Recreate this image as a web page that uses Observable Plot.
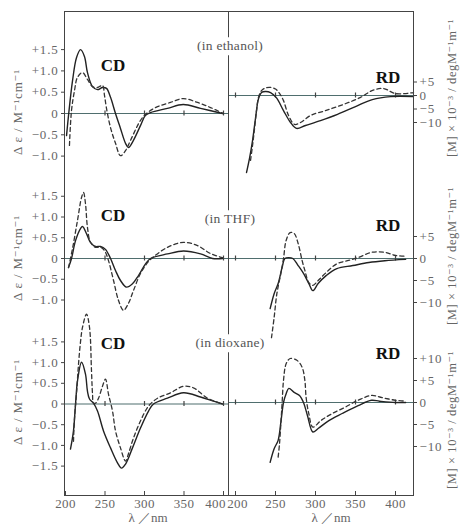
<!DOCTYPE html>
<html><head><meta charset="utf-8">
<script src="https://cdn.jsdelivr.net/npm/d3@7"></script>
<script src="https://cdn.jsdelivr.net/npm/@observablehq/plot@0.6"></script>
<style>
body{margin:0;background:#fff;}
#fig{position:relative;width:461px;height:524px;overflow:hidden;background:#fff;font-family:"Liberation Serif","DejaVu Serif",serif;color:#666;}
#fig svg{position:absolute;left:0;top:0;overflow:visible;background:transparent;}
#fig svg text{letter-spacing:0.8px;}
#fig svg g[aria-label="x-axis tick label"] text{letter-spacing:0.4px;}
.lbl{position:absolute;white-space:nowrap;line-height:1;}
.box{position:absolute;border:1px solid #444;box-sizing:border-box;}
.vline{position:absolute;width:1.2px;background:#444;}
</style></head><body><div id="fig"></div>
<script>
// ---- data: [wavelength nm, value] ----
const cdEthSolid = [[201.3,-0.52],[203.8,-0.05],[208.9,0.77],[213.9,1.31],[219,1.5],[224,1.34],[227.8,0.96],[234.2,0.63],[240.5,0.56],[246.8,0.61],[251.9,0.59],[257,0.38],[263.3,0],[269.6,-0.35],[276,-0.7],[279.7,-0.8],[286,-0.63],[295,-0.28],[301,-0.05],[307.6,0.02],[329,0.12],[349,0.21],[371,0.12],[398.7,0]];
const cdEthDashed = [[205,-0.75],[207.6,0.07],[211.4,0.54],[215.2,0.85],[221.5,0.96],[227.8,0.8],[234.2,0.63],[240.5,0.61],[246.8,0.66],[249.4,0.42],[251.9,0.12],[257,-0.33],[263.3,-0.7],[269.6,-0.99],[276,-0.87],[282.3,-0.63],[295,-0.16],[303.8,0.02],[316.5,0.16],[333,0.26],[349,0.35],[367,0.26],[383.5,0.14],[400,0]];
const rdEthSolid = [[213.8,-28.5],[217.5,-23.3],[221.3,-16.7],[225,-8.5],[228.8,-1.1],[232.5,1.1],[237.5,1.5],[243.8,1.1],[251.3,-0.9],[260,-5.6],[268.8,-10],[276.3,-12.2],[287.5,-11.1],[306.3,-9.3],[327.5,-7.0],[350,-4.1],[371,-1.5],[393.8,-0.4],[422.5,-0.4]];
const rdEthDashed = [[218.8,-24],[221.3,-18.5],[223.8,-12.2],[226.3,-5.6],[228.8,-0.6],[232.5,1.8],[237.5,2.8],[243.8,3.0],[250,2.4],[255,0.8],[260,-1.9],[266.3,-7.4],[273.8,-10.7],[281.3,-10],[293.8,-7.4],[312.5,-5.6],[335,-3.3],[356.3,-0.7],[371.3,1.9],[385,2.6],[400,0.7],[422.5,1.1]];

const cdThfSolid = [[203.8,-0.22],[207.6,0],[212.7,0.43],[219,0.72],[221.5,0.77],[226.6,0.6],[231.6,0.39],[238,0.29],[244.3,0.29],[250.6,0.22],[257,0],[263.3,-0.29],[269.6,-0.53],[277.2,-0.69],[284.8,-0.61],[292.4,-0.41],[301.3,-0.13],[307.6,0],[329.1,0.11],[349.4,0.18],[370.9,0.11],[386.1,0],[398.7,0]];
const cdThfDashed = [[203.8,-0.22],[208.9,0.24],[215.2,0.92],[220.3,1.47],[222.8,1.59],[225.3,1.32],[227.8,0.75],[231.6,0.39],[238,0.27],[244.3,0.27],[249.4,0.19],[254.4,-0.05],[260.8,-0.53],[267.1,-1.01],[273.4,-1.25],[279.7,-1.08],[286.1,-0.77],[294.9,-0.36],[303.8,-0.1],[310.1,0.02],[329.1,0.27],[349.4,0.39],[367.1,0.31],[383.5,0.12],[398.7,0.02]];
const rdThfSolid = [[243.3,-11.4],[248.3,-8],[253.3,-5.7],[258.3,-2],[261.7,0],[266.7,0.2],[271.7,0],[278.3,-1.6],[285,-3.4],[291.7,-5.7],[296.7,-7.3],[303.3,-5.7],[313.3,-3.9],[326.7,-2.3],[346.7,-1.6],[366.7,-0.9],[386.7,-0.5],[412.7,-0.2]];
const rdThfDashed = [[245,-18],[248.3,-13.4],[251.7,-8],[256.7,-3.4],[260,0],[263.3,4.1],[268.3,5.9],[273.3,5.7],[278.3,3.4],[283.3,-0.5],[286.7,-2.7],[291.7,-5.5],[296.7,-6.1],[303.3,-5],[313.3,-3.2],[326.7,-1.2],[340,-0.5],[353.3,0.2],[370,1.4],[386.7,1.4],[400,0.7],[412.7,0.5]];

const cdDioxSolid = [[206.3,-1.09],[210.1,-0.65],[212.7,0],[215.2,0.56],[220.3,1.01],[225.3,0.72],[227.8,0.31],[230.4,0.12],[235.4,0.02],[240.5,-0.17],[248.1,-0.65],[257,-1.06],[265.8,-1.42],[270.9,-1.55],[276,-1.45],[284.8,-1.06],[294.9,-0.58],[305.1,-0.17],[311.4,0],[329.1,0.14],[349.4,0.27],[370.9,0.17],[387.3,0.07],[398.7,0]];
const cdDioxDashed = [[210.1,-0.9],[211.4,-0.34],[213.9,0.24],[216.5,0.97],[219,1.5],[221.5,1.85],[226.6,2.17],[230.4,1.85],[232.9,0.8],[234.2,0.24],[235.4,0.02],[238,0.02],[241.8,0.14],[246.8,0.43],[250.6,0.6],[254.4,0.24],[259.5,-0.17],[263.3,-0.65],[269.6,-1.06],[276,-1.38],[279.7,-1.2],[286.1,-0.82],[294.9,-0.41],[305.1,-0.05],[316.5,0.14],[332.9,0.27],[349.4,0.43],[362,0.39],[379.7,0.14],[398.7,0]];
const rdDioxSolid = [[243.3,-13.6],[248.3,-10.5],[253.3,-8.6],[256.7,-4.5],[260,0],[263.3,2],[266.7,3.2],[273.3,2.3],[280,1.6],[285,0],[290,-3],[296.7,-6.7],[303.3,-5.9],[316.7,-4.1],[333.3,-2.5],[353.3,-0.7],[370,0.5],[380,0.3],[400,0],[412.7,0]];
const rdDioxDashed = [[253.3,-12.4],[255,-9.4],[256.7,-4.8],[258.3,0],[260,5],[263.3,8.8],[268.3,10],[276.7,9.6],[283.3,8],[286.7,5],[288.3,1.1],[291.7,-2.6],[296.7,-5.6],[306.7,-4.1],[320,-2.6],[336.7,-1.1],[353.3,0.5],[370,1.6],[383.3,1.1],[400,0.5],[412.7,0.3]];

// ticks & labels
const cdTicksA = [-1.0,-0.5,0,0.5,1.0,1.5];
const cdTicksB = [-1.5,-1.0,-0.5,0,0.5,1.0,1.5];
const rdTicksA = [-10,-5,0,5];
const rdTicksB = [-10,-5,0,5,10];
const wlTicks = [200,250,300,350,400];
const baseTicksLeft = [250,300,350,400];
const baseTicksRight = [200,250,300,350,400];
const solvents = ["(in ethanol)","(in THF)","(in dioxane)"];
const cdTitle = "Δ\u2009ε / M⁻¹cm⁻¹";
const rdTitle = "[M] × 10⁻³ / degM⁻¹m⁻¹";
const xTitle = "λ ／nm";

// ---- layout (pixels) ----
const W = 461, H = 524;
const F = {left:64, mid:228, right:413, top:11, bottom:495};
const rows = [
  {top:11, bottom:180, cdZero:113, cdPpu:42.6, rdZero:95, rdPpu:2.7, cdTicks:cdTicksA, rdTicks:rdTicksA, cd:[cdEthSolid,cdEthDashed], rd:[rdEthSolid,rdEthDashed], cdLbl:65, rdLbl:77, solv:46, cdTitleY:112, rdTitleY:88},
  {top:180, bottom:330, cdZero:258, cdPpu:41.5, rdZero:258, rdPpu:4.4, cdTicks:cdTicksA, rdTicks:rdTicksA, cd:[cdThfSolid,cdThfDashed], rd:[rdThfSolid,rdThfDashed], cdLbl:215, rdLbl:225, solv:219, cdTitleY:258, rdTitleY:256},
  {top:330, bottom:495, cdZero:403.5, cdPpu:41.4, rdZero:402, rdPpu:4.4, cdTicks:cdTicksB, rdTicks:rdTicksB, cd:[cdDioxSolid,cdDioxDashed], rd:[rdDioxSolid,rdDioxDashed], cdLbl:343, rdLbl:353, solv:343, cdTitleY:402, rdTitleY:420}
];
const leftX = {domain:[200 + (F.left-65)/0.79, 200 + (F.mid-65)/0.79], ml:F.left, mr:W-F.mid, side:"left"};
const rightX = {domain:[200 + (F.mid-235)/0.8, 200 + (F.right-235)/0.8], ml:F.mid, mr:W-F.right, side:"right"};

const fig = document.getElementById("fig");
const fmtCD = d => d === 0 ? "0" : (d > 0 ? "+" : "−") + Math.abs(d).toFixed(1);
const fmtRD = d => d === 0 ? "0" : (d > 0 ? "+" : "−") + Math.abs(d);

function panel(col, row, zero, ppu, series, ticks, fmt, anchor, baseTicks, isBottom) {
  const yDomain = [(zero - row.bottom)/ppu, (zero - row.top)/ppu];
  const marks = [
    Plot.ruleY([0], {stroke:"#4f6e6e", strokeWidth:1.2}),
    Plot.ruleX(baseTicks, {x:d=>d, y1:-2.5/ppu, y2:2.5/ppu, stroke:"#444", strokeWidth:1.2}),
    Plot.line(series[0], {x:d=>d[0], y:d=>d[1], curve:"catmull-rom", stroke:"#222", strokeWidth:1.4}),
    Plot.line(series[1], {x:d=>d[0], y:d=>d[1], curve:"catmull-rom", stroke:"#333", strokeWidth:1.3, strokeDasharray:"4,3"}),
    Plot.axisY({anchor, ticks, tickFormat:fmt, tickSize:3, tickPadding:3, label:null, fontSize:13, stroke:"#444"})
  ];
  if (isBottom) {
    const edge = col.side === "left" ? 400 : 200;
    const nudge = col.side === "left" ? -8 : 2;
    marks.push(Plot.axisX({anchor:"bottom", ticks:wlTicks.filter(t => t !== edge), tickSize:0, tickPadding:3, label:null, fontSize:13}));
    marks.push(Plot.axisX({anchor:"bottom", ticks:[edge], tickSize:0, tickPadding:3, dx:nudge, label:null, fontSize:13}));
    marks.push(Plot.ruleX(wlTicks, {x:d=>d, y1:yDomain[0], y2:yDomain[0] + 4/ppu, stroke:"#444"}));
  }
  const svg = Plot.plot({
    width:W, height:H,
    marginLeft:col.ml, marginRight:col.mr, marginTop:row.top, marginBottom:H-row.bottom,
    x:{domain:col.domain, ...(isBottom ? {} : {axis:null})},
    y:{domain:yDomain},
    style:{background:"transparent", fontFamily:"Liberation Serif, DejaVu Serif, serif", fontSize:"13px", color:"#666", overflow:"visible"},
    marks
  });
  fig.appendChild(svg);
}

rows.forEach((r, i) => {
  const isBottom = i === rows.length - 1;
  panel(leftX, r, r.cdZero, r.cdPpu, r.cd, r.cdTicks, fmtCD, "left", baseTicksLeft, isBottom);
  panel(rightX, r, r.rdZero, r.rdPpu, r.rd, r.rdTicks, fmtRD, "right", baseTicksRight, isBottom);
});

// frame + divider
function div(cls, css, text) {
  const d = document.createElement("div");
  d.className = cls; Object.assign(d.style, css);
  if (text != null) d.textContent = text;
  fig.appendChild(d); return d;
}
div("box", {left:F.left+"px", top:F.top+"px", width:(F.right-F.left+1)+"px", height:(F.bottom-F.top+1)+"px"});
div("vline", {left:F.mid+"px", top:F.top+"px", height:(F.bottom-F.top)+"px"});

// labels
rows.forEach((r, i) => {
  div("lbl", {left:"113px", top:r.cdLbl+"px", transform:"translate(-50%,-50%)", fontWeight:"bold", fontSize:"17px", color:"#111"}, "CD");
  div("lbl", {left:"388px", top:r.rdLbl+"px", transform:"translate(-50%,-50%)", fontWeight:"bold", fontSize:"17px", color:"#111"}, "RD");
  div("lbl", {left:"230px", top:r.solv+"px", transform:"translate(-50%,-50%)", fontSize:"13.5px", color:"#555", background:"#fff", padding:"2px 1px", letterSpacing:"0.3px"}, solvents[i]);
  div("lbl", {left:"17px", top:r.cdTitleY+"px", transform:"translate(-50%,-50%) rotate(-90deg)", fontSize:"13px", color:"#666", letterSpacing:"0.8px"}, cdTitle);
  div("lbl", {left:"452px", top:r.rdTitleY+"px", transform:"translate(-50%,-50%) rotate(-90deg)", fontSize:"12.5px", color:"#666", letterSpacing:"0.6px"}, rdTitle);
});
div("lbl", {left:"148px", top:"517px", transform:"translate(-50%,-50%)", fontSize:"13px", color:"#666"}, xTitle);
div("lbl", {left:"331px", top:"517px", transform:"translate(-50%,-50%)", fontSize:"13px", color:"#666"}, xTitle);
</script></body></html>
